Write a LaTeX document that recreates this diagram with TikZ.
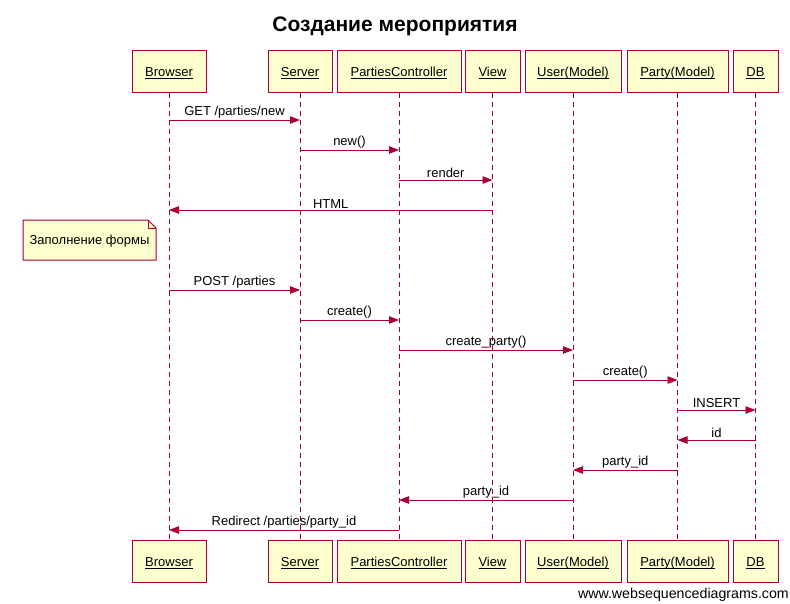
\documentclass[tikz,border=0pt]{standalone}
\usepackage{fontspec}
\setmainfont{Liberation Sans}
\usetikzlibrary{arrows.meta}
\definecolor{wsdred}{HTML}{A80036}
\definecolor{wsdfill}{HTML}{FEFECE}
\tikzset{
  actor/.style={draw=wsdred, fill=wsdfill, line width=1pt, minimum height=42pt, inner sep=0pt, text height=11.5pt, text depth=0pt, font=\fontsize{13}{15}\selectfont},
  life/.style={draw=wsdred, dash pattern=on 5pt off 4pt, line width=0.9pt},
  msg/.style={draw=wsdred, line width=0.9pt, -{Triangle[length=10pt,width=7.5pt]}},
  lbl/.style={font=\fontsize{13}{15}\selectfont, inner sep=1.5pt, anchor=south},
  notebox/.style={draw=wsdred, fill=wsdfill, line width=1pt},
}
\newcommand{\ul}[1]{\underline{\smash{#1}}}
\begin{document}
\begin{tikzpicture}[x=1pt,y=-1pt]
\useasboundingbox (0,0) rectangle (790,603);
\node[font=\fontsize{21}{24}\selectfont\bfseries] (title) at (395,26) {Создание мероприятия};
% actors: name, left, right
\foreach \n/\l/\rr/\t in {br/132/206/Browser, sv/268/332/Server, pc/337/461/PartiesController, vw/465/520/View, um/525/621/User(Model), pm/627/728/Party(Model), db/733/778/DB}{
  \node[actor, minimum width={(\rr-\l)*1pt}] (\n-top) at ({(\l+\rr)/2},71) {\ul{\t}};
  \node[actor, minimum width={(\rr-\l)*1pt}] (\n-bot) at ({(\l+\rr)/2},561) {\ul{\t}};
  \draw[life] (\n-top.south) -- (\n-bot.north);
}
\foreach \i/\y in {1/120,2/150,3/180,4/210,5/290,6/320,7/350,8/380,9/410,10/440,11/470,12/500,13/530}{
  \coordinate (r\i) at (0,\y);
}
\draw[msg] (br-top |- r1) -- node[lbl] {GET /parties/new} (sv-top |- r1);
\draw[msg] (sv-top |- r2) -- node[lbl] {new()} (pc-top |- r2);
\draw[msg] (pc-top |- r3) -- node[lbl] {render} (vw-top |- r3);
\draw[msg] (vw-top |- r4) -- node[lbl] {HTML} (br-top |- r4);
% note
\draw[notebox] (23,220) -- (148,220) -- (156,228) -- (156,260) -- (23,260) -- cycle;
\draw[draw=wsdred, line width=0.8pt] (148,220) -- (148,228) -- (156,228);
\node[font=\fontsize{13}{15}\selectfont] (note) at (89.5,241) {Заполнение формы};
\draw[msg] (br-top |- r5) -- node[lbl] {POST /parties} (sv-top |- r5);
\draw[msg] (sv-top |- r6) -- node[lbl] {create()} (pc-top |- r6);
\draw[msg] (pc-top |- r7) -- node[lbl] {create\_party()} (um-top |- r7);
\draw[msg] (um-top |- r8) -- node[lbl] {create()} (pm-top |- r8);
\draw[msg] (pm-top |- r9) -- node[lbl] {INSERT} (db-top |- r9);
\draw[msg] (db-top |- r10) -- node[lbl] {id} (pm-top |- r10);
\draw[msg] (pm-top |- r11) -- node[lbl] {party\_id} (um-top |- r11);
\draw[msg] (um-top |- r12) -- node[lbl] {party\_id} (pc-top |- r12);
\draw[msg] (pc-top |- r13) -- node[lbl] {Redirect /parties/party\_id} (br-top |- r13);
\node[font=\fontsize{14.2}{16}\selectfont, anchor=east, inner sep=0pt] (wm) at (789,595) {www.websequencediagrams.com};
\end{tikzpicture}
\end{document}
